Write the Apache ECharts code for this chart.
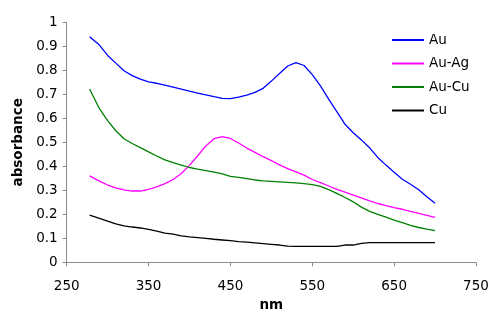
<!DOCTYPE html>
<html>
<head>
<meta charset="utf-8">
<script src="https://cdn.jsdelivr.net/npm/echarts@6/dist/echarts.min.js"></script>
<style>html,body{margin:0;padding:0;background:#fff}#c{width:498px;height:318px}</style>
</head>
<body>
<div id="c"></div>
<script>
const wavelengths = [278,290,300,310,320,330,340,350,360,370,380,390,400,410,420,430,440,450,460,470,480,490,500,510,520,530,540,550,560,570,580,590,600,610,620,630,640,650,660,670,680,690,700];
const au   = [0.940,0.905,0.862,0.830,0.798,0.778,0.763,0.752,0.746,0.738,0.730,0.722,0.713,0.705,0.698,0.690,0.683,0.682,0.688,0.697,0.708,0.725,0.755,0.787,0.818,0.832,0.820,0.782,0.735,0.680,0.628,0.575,0.540,0.510,0.477,0.437,0.405,0.375,0.346,0.325,0.302,0.273,0.246];
const auAg = [0.360,0.338,0.322,0.310,0.302,0.297,0.297,0.304,0.314,0.328,0.345,0.370,0.404,0.444,0.485,0.515,0.524,0.516,0.497,0.476,0.458,0.440,0.424,0.406,0.390,0.377,0.363,0.345,0.332,0.318,0.304,0.292,0.280,0.268,0.256,0.245,0.236,0.228,0.221,0.212,0.204,0.196,0.187];
const auCu = [0.722,0.640,0.590,0.548,0.515,0.495,0.478,0.460,0.443,0.427,0.415,0.405,0.395,0.388,0.382,0.376,0.368,0.358,0.354,0.349,0.343,0.339,0.337,0.335,0.333,0.331,0.328,0.324,0.316,0.303,0.287,0.270,0.252,0.230,0.212,0.200,0.188,0.176,0.165,0.154,0.145,0.138,0.132];
const cu   = [0.197,0.183,0.172,0.160,0.152,0.147,0.143,0.137,0.130,0.122,0.117,0.110,0.106,0.103,0.100,0.096,0.093,0.090,0.086,0.084,0.081,0.078,0.075,0.072,0.067,0.066,0.066,0.066,0.066,0.066,0.066,0.072,0.072,0.079,0.082,0.082,0.082,0.082,0.082,0.082,0.082,0.082,0.082];
const seriesNames = ['Au','Au-Ag','Au-Cu','Cu'];
const seriesColors = ['#0000ff','#ff00ff','#008000','#000000'];
const seriesValues = [au, auAg, auCu, cu];

const font = 'DejaVu Sans';
const axisColor = '#8c8c8c';
const chart = echarts.init(document.getElementById('c'), null, {renderer:'canvas'});
chart.setOption({
  animation: false,
  backgroundColor: '#ffffff',
  grid: {left: 66.7, right: 22, top: 22.3, bottom: 55.7},
  legend: {
    orient: 'vertical', left: 392, top: 33, padding: 0,
    icon: 'rect', itemWidth: 32, itemHeight: 2, itemGap: 9.5,
    textStyle: {fontFamily: font, fontSize: 13.5, color: '#000', lineHeight: 14},
    data: seriesNames
  },
  xAxis: {
    type: 'value', min: 250, max: 750, interval: 100,
    name: 'nm', nameLocation: 'middle', nameGap: 34,
    nameTextStyle: {fontFamily: font, fontSize: 13.5, fontWeight: 'bold', color: '#000'},
    axisLine: {lineStyle: {color: axisColor, width: 1}},
    axisTick: {show: true, length: 4, inside: false, lineStyle: {color: axisColor}},
    axisLabel: {fontFamily: font, fontSize: 13.5, color: '#000', margin: 17},
    splitLine: {show: false}
  },
  yAxis: {
    type: 'value', min: 0, max: 1, interval: 0.1,
    name: 'absorbance', nameLocation: 'middle', nameGap: 40, nameRotate: 90,
    nameTextStyle: {fontFamily: font, fontSize: 13.5, fontWeight: 'bold', color: '#000'},
    axisLine: {show: true, lineStyle: {color: axisColor, width: 1}},
    axisTick: {show: true, length: 4, inside: false, lineStyle: {color: axisColor}},
    axisLabel: {fontFamily: font, fontSize: 13.5, color: '#000', margin: 9,
      formatter: v => String(Math.round(v*10)/10)},
    splitLine: {show: false}
  },
  series: seriesNames.map((n, i) => ({
    name: n, type: 'line', symbol: 'none', showSymbol: false,
    color: seriesColors[i],
    lineStyle: {color: seriesColors[i], width: 1.3},
    data: wavelengths.map((w, j) => [w, seriesValues[i][j]])
  }))
});
</script>
</body>
</html>
